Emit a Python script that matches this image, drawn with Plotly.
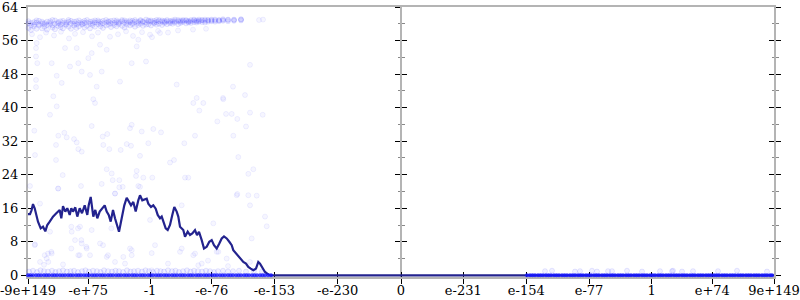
import plotly.graph_objects as go

# ---------------- data ----------------
tick_pos = [0, 60.3, 122, 183.7, 246.3, 309.7, 373, 435.3, 498.3, 561, 623.7, 684.3, 746]
tick_text = ["-9e+149", "-e+75", "-1", "-e-76", "-e-153", "-e-230", "0",
             "e-231", "e-154", "e-77", "1", "e+74", "9e+149"]
y_ticks = [0, 8, 16, 24, 32, 40, 48, 56, 64]

line_x = [0, 2, 3.5, 5, 6.7, 8.3, 10, 12.7, 15, 17.3, 19.3, 21.7, 25, 28.3, 31.7, 33.3, 35, 37.3,
          39.3, 41.7, 43.3, 45, 47.3, 49.3, 51.7, 54, 56.7, 59.3, 60.7, 62.7, 64, 65.3, 67.3, 69.3,
          71.7, 74, 76.7, 78.7, 80.7, 82.7, 85, 87, 89.7, 91, 93.7, 96.3, 98.7, 101, 103, 105.3,
          107.7, 110.3, 112, 114.3, 116.3, 118.7, 120.3, 123, 125.3, 127.7, 129.7, 132, 133.7,
          135.3, 137.7, 139.7, 142, 144.3, 146.3, 148.7, 150.3, 152, 153.7, 155.3, 157, 159.7,
          162, 164.3, 167, 169, 171, 172.5, 173.7, 176, 178.7, 181.3, 183.7, 186, 188.7, 191.3,
          193.7, 196, 198.7, 201.3, 203.7, 205.3, 208, 210.3, 212.7, 215.3, 218, 220.3, 222.7,
          225.3, 228, 230.3, 232, 234.7, 237, 239.3, 242, 746]
line_y = [14.6, 14.6, 15.5, 17.0, 16.0, 14.4, 12.8, 11.2, 11.6, 10.5, 12.0, 12.8, 14.0, 14.8, 15.6,
          13.6, 16.5, 15.2, 16.0, 14.4, 16.0, 15.2, 16.2, 14.0, 16.0, 14.8, 16.7, 14.4, 16.7, 18.7,
          16.7, 14.0, 15.6, 13.6, 15.2, 16.0, 16.7, 15.2, 14.4, 12.8, 15.6, 13.6, 11.4, 10.4, 13.6,
          16.7, 18.5, 17.5, 16.7, 17.5, 15.2, 17.9, 19.1, 17.9, 18.1, 18.3, 17.1, 16.3, 16.7, 15.9,
          14.4, 13.6, 14.0, 12.8, 11.2, 10.8, 12.0, 14.4, 16.3, 15.2, 14.0, 11.6, 11.2, 10.8, 9.2,
          10.4, 9.6, 10.0, 10.8, 9.6, 10.4, 9.4, 8.4, 6.4, 6.8, 8.0, 8.4, 7.2, 6.4, 7.6, 8.8, 9.3,
          8.8, 8.0, 7.2, 6.0, 5.2, 4.4, 3.8, 3.2, 2.8, 2.0, 1.6, 1.2, 1.6, 3.2, 2.8, 1.6, 0.8, 0.4,
          0, 0]

# dense band of points near the top
top_x = [0.5, 3, 6, 8.5, 11, 14, 16.5, 19, 22, 24.5, 27, 30, 32.5, 35, 38, 40.5, 43, 46, 48.5, 51,
         54, 56.5, 59, 62, 64.5, 67, 70, 72.5, 75, 78, 80.5, 83, 86, 88.5, 91, 94, 96.5, 99, 102,
         104.5, 107, 110, 112.5, 115, 118, 120.5, 123, 126, 128.5, 131, 134, 136.5, 139, 142,
         144.5, 147, 150, 152.5, 155, 158, 160.5, 163, 166, 168.5, 171, 174, 177, 180, 183.5, 187,
         191, 195, 200, 206, 213]
top_ya = [60.1, 59.6, 60.4, 60.8, 59.9, 60.5, 60.2, 59.7, 60.6, 60.9, 60.0, 60.4, 59.8, 60.7, 60.3,
          60.9, 60.1, 60.5, 59.9, 60.8, 60.4, 60.2, 60.9, 60.0, 60.6, 60.3, 60.8, 60.5, 60.1, 60.9,
          60.4, 60.7, 60.2, 60.8, 60.5, 60.9, 60.3, 60.6, 60.8, 60.2, 60.9, 60.5, 60.7, 60.4, 61.0,
          60.6, 60.8, 60.3, 60.9, 60.6, 60.8, 60.4, 60.9, 60.7, 60.5, 61.0, 60.6, 60.8, 60.9, 60.7,
          60.5, 60.9, 60.8, 60.6, 61.0, 60.8, 60.7, 60.9, 61.0, 60.8, 60.9, 61.1, 60.9, 61.0, 61.1]
top_yb = [59.0, 58.5, 59.4, 58.8, 59.6, 58.9, 59.3, 58.6, 59.8, 59.1, 58.7, 59.5, 59.2, 58.9, 59.7,
          59.3, 58.8, 59.6, 59.0, 59.4, 59.8, 59.1, 59.5, 58.9, 59.7, 59.3, 59.9, 59.4, 59.0, 59.6,
          59.8, 59.2, 59.7, 59.4, 59.9, 59.5, 59.1, 59.8, 59.6, 59.9, 59.3, 59.7, 60.0, 59.5, 59.8,
          59.9, 59.6, 60.1, 59.8, 60.0, 59.7, 60.2, 59.9, 60.1, 60.0, 60.3, 59.9, 60.2, 60.4, 60.1,
          60.3, 60.2, 60.4, 60.3, 60.5, 60.4, 60.3, 60.5, 60.6, 60.5, 60.6, 60.7, 60.6, 60.7, 60.8]
top_yc = [60.6, 60.2, 59.8, 60.3, 60.7, 60.1, 59.9, 60.5, 60.2, 59.6, 60.8, 60.1, 60.6, 60.2, 59.9,
          60.5, 60.7, 60.0, 60.6, 60.2, 60.0, 60.7, 60.3, 60.5, 60.1, 60.8, 60.4, 60.0, 60.7, 60.3,
          60.6, 60.1, 60.8, 60.4, 60.2, 60.6, 60.8, 60.2, 60.4, 60.7, 60.5, 60.2, 60.9, 60.6, 60.3,
          60.8, 60.5, 60.7, 60.4, 60.9, 60.5, 60.7, 60.6, 60.4, 60.8, 60.6, 60.9, 60.5, 60.7, 60.9,
          60.7, 60.6, 61.0, 60.8, 60.7, 60.9, 61.0, 60.8, 60.8, 61.0, 60.8, 60.9, 61.0, 60.9, 61.0]

# scattered points
pts_x = [231, 235, 4, 12, 18, 26, 33, 41, 47, 55, 64, 70, 82, 90, 98, 105, 114, 122, 130, 140, 150,
         165, 178, 8, 8, 9.3, 23.7, 37, 48.7, 50.3, 60.3, 63.7, 42, 53.7, 62, 73.7, 68.7, 78.7, 72,
         103.7, 118, 92, 8, 8, 28.7, 33.7, 25.3, 8.7, 222, 205, 148.7, 168.7, 195, 217, 108.7, 110.3,
         124, 132,
         28.7, 22, 67, 65.3, 195.3, 6.3, 63.7, 103.7, 102, 113.7, 125.3, 133, 30.3, 36.3, 38.7, 46,
         48.7, 28, 7, 28, 50.3, 53.7, 74.7, 79.3, 75.3, 81.3, 92.7, 98.7, 103, 120.3, 112, 156.3,
         167, 142, 146, 78.7, 83.7, 108.7, 108, 115.3, 124.3, 84.7, 91.3, 34.7, 53, 73.7, 87, 91.3,
         94.7, 110.3, 157, 160.3, 2, 30.3, 165.3, 175.3, 171.3, 198, 203.7, 209.3, 222, 234.7,
         189.3, 218, 205.3, 210.3, 220.3, 225.3, 209.3, 228.7,
         12, 87, 153.7, 208.7, 220.3, 237, 238.7, 7, 22, 43.7, 52, 63.7, 47, 53.7, 58.7, 72, 12,
         18.7, 23.7, 20.3, 50.3, 62, 78.7, 87, 103.7, 103.7, 123.7, 153.7, 167, 185.3, 188.7, 198.7,
         222, 123.7, 222, 16, 35, 140, 180, 200, 6.7, 16.7, 20, 23.3, 43.3, 51.7, 58.3, 75, 80, 53.3,
         43.3, 50, 83.3, 30, 122, 127, 102, 95.3, 152, 165.3, 170.3, 97, 112, 190.3, 223.7, 173.7]
pts_y = [60.9, 61.0, 57.5, 56.8, 57.9, 57.2, 58.1, 56.5, 57.6, 58.0, 57.0, 57.9, 56.9, 57.5, 58.2,
         57.1, 58.0, 57.4, 58.3, 57.9, 58.4, 58.6, 58.8, 54.2, 52.2, 50.6, 50.6, 54.2, 54.2, 50.6,
         51.8, 53.0, 49.8, 48.6, 47.8, 48.6, 45.0, 53.8, 55.0, 50.6, 51.0, 46.2, 46.6, 44.9, 47.6,
         45.9, 42.7, 55.4, 50.2, 45.0, 45.5, 42.3, 42.3, 43.0, 54.6, 56.2, 56.8, 57.8,
         40.3, 38.3, 41.1, 42.0, 42.0, 34.5, 35.6, 35.9, 35.1, 34.3, 34.9, 34.1, 33.3, 34.0, 32.9,
         32.5, 31.7, 31.1, 28.7, 27.5, 30.1, 29.5, 33.1, 33.7, 31.1, 30.1, 29.9, 31.3, 30.9, 31.5,
         28.5, 31.5, 33.3, 26.9, 27.5, 25.3, 24.3, 24.9, 23.7, 23.3, 23.3, 22.7, 22.7, 23.9, 21.3,
         21.8, 19.5, 21.0, 21.1, 21.3, 23.3, 23.3, 21.3, 20.7, 41.1, 41.1, 39.3, 38.5, 38.5, 37.3,
         38.8, 38.3, 36.7, 35.5, 33.3, 28.2, 24.2, 25.3, 19.4, 19.0,
         17.1, 19.5, 16.7, 19.1, 19.1, 14.0, 11.7, 7.4, 10.4, 10.4, 11.6, 10.8, 8.4, 7.6, 6.4, 7.6,
         3.2, 4.0, 5.2, 3.2, 4.8, 4.8, 4.4, 3.2, 6.0, 4.8, 5.3, 6.4, 5.2, 12.4, 5.6, 4.0, 3.2, 1.2,
         16.7, 2.5, 2.6, 2.8, 3.5, 2.2, 7.2, 4.8, 5.2, 5.6, 6.4, 4.8, 6.8, 7.2, 4.8, 8.4, 11.6, 11.2,
         11.2, 20.7, 13.2, 7.2, 6.4, 4.4, 5.6, 4.8, 2.4, 2.8, 21.1, 5.6, 8.8, 2.8]

# faint band just above zero
low_x = [1, 5, 9, 12.5, 16, 20, 24, 27.5, 31, 35, 39, 42.5, 46, 50, 54, 57.5, 61, 65, 69, 72.5, 76,
         80, 84, 87.5, 91, 95, 99, 102.5, 106, 110, 114, 117.5, 121, 125, 129, 132.5, 136, 140, 144,
         147.5, 151, 155, 159, 162.5, 166, 170, 174, 178, 182, 186, 190, 195, 200, 205, 211, 218,
         226, 234, 517, 524, 547, 552, 564, 569, 580, 584, 599, 614, 632, 644, 645, 654, 665, 690,
         709, 739]
low_y = [0.9, 1.1, 0.8, 1.2, 1.0, 0.9, 1.1, 0.8, 1.0, 1.2, 0.9, 1.0, 1.1, 0.8, 1.0, 1.2, 0.9, 1.1,
         1.0, 0.8, 1.2, 1.0, 0.9, 1.1, 1.0, 0.8, 1.2, 0.9, 1.0, 1.1, 0.9, 1.2, 1.0, 0.8, 1.1, 1.0,
         0.9, 1.2, 1.0, 1.1, 0.8, 1.0, 1.2, 0.9, 1.1, 1.0, 0.9, 1.1, 1.0, 0.8, 1.0, 1.1, 0.9, 1.0,
         1.1, 0.9, 1.0, 0.9, 1.0, 1.1, 0.9, 1.0, 1.1, 0.9, 1.0, 1.0, 1.1, 0.9, 1.0, 1.0, 1.1, 0.9,
         1.0, 1.0, 1.1, 0.9]

# points lying on zero
zero_x = [0, 2.5, 5, 8, 10.5, 13, 16, 18.5, 21, 24, 26.5, 29, 32, 34.5, 37, 40, 42.5, 45, 48, 50.5,
          53, 56, 58.5, 61, 64, 66.5, 69, 72, 74.5, 77, 80, 82.5, 85, 88, 90.5, 93, 96, 98.5, 101,
          104, 106.5, 109, 112, 114.5, 117, 120, 122.5, 125, 128, 130.5, 133, 136, 138.5, 141, 144,
          146.5, 149, 152, 154.5, 157, 160, 162.5, 165, 168, 170.5, 173, 176, 178.5, 181, 184,
          186.5, 189, 192, 194.5, 197, 200, 202.5, 205, 208, 210.5, 213, 216, 218.5, 221, 224,
          226.5, 229, 232, 234.5, 237, 240, 243,
          499, 502, 504.5, 507, 510, 512.5, 515, 518, 520.5, 523, 526, 528.5, 531, 534, 536.5, 539,
          542, 544.5, 547, 550, 552.5, 555, 558, 560.5, 563, 566, 568.5, 571, 574, 576.5, 579, 582,
          584.5, 587, 590, 592.5, 595, 598, 600.5, 603, 606, 608.5, 611, 614, 616.5, 619, 622,
          624.5, 627, 630, 632.5, 635, 638, 640.5, 643, 646, 648.5, 651, 654, 656.5, 659, 662,
          664.5, 667, 670, 672.5, 675, 678, 680.5, 683, 686, 688.5, 691, 694, 696.5, 699, 702,
          704.5, 707, 710, 712.5, 715, 718, 720.5, 723, 726, 728.5, 731, 734, 736.5, 739, 742, 744]

# ---------------- figure ----------------
band_x = list(top_x) * 3 + list(low_x)
band_y = list(top_ya) + list(top_yb) + list(top_yc) + list(low_y)

fig = go.Figure()
fig.add_trace(go.Scatter(x=line_x, y=line_y, mode="lines",
                         line=dict(color="#23238e", width=2.2), hoverinfo="skip"))
fig.add_trace(go.Scatter(x=pts_x, y=pts_y, mode="markers",
                         marker=dict(size=5, color="rgba(0,0,255,0.035)",
                                     line=dict(color="rgba(0,0,255,0.06)", width=1)),
                         cliponaxis=False, hoverinfo="skip"))
fig.add_trace(go.Scatter(x=band_x, y=band_y, mode="markers",
                         marker=dict(size=5, color="rgba(0,0,255,0.06)",
                                     line=dict(color="rgba(0,0,255,0.09)", width=1)),
                         cliponaxis=False, hoverinfo="skip"))
fig.add_trace(go.Scatter(x=zero_x, y=[0] * len(zero_x), mode="markers",
                         marker=dict(size=4, color="rgba(20,20,255,0.8)", line=dict(width=0)),
                         cliponaxis=False, hoverinfo="skip"))
# empty traces binding the extra tick axes
for xa, ya in [("x2", "y"), ("x", "y2"), ("x", "y3"), ("x", "y4")]:
    fig.add_trace(go.Scatter(x=[], y=[], xaxis=xa, yaxis=ya, showlegend=False))

GRAY = "#b4b4b4"
font = dict(family="DejaVu Serif", size=13, color="black")
x_range = [0, 746]
y_range = [-0.4, 64]
minor_out = dict(ticks="outside", dtick=4, tick0=0, ticklen=2.5, tickcolor="#888888", tickwidth=1)
minor_in = dict(ticks="inside", dtick=4, tick0=0, ticklen=2.5, tickcolor="#888888", tickwidth=1)
common = dict(showgrid=False, zeroline=False, automargin=False, layer="below traces",
              tickcolor="black", tickwidth=1, tickmode="array", ticklabeloverflow="allow")

fig.update_layout(
    width=800, height=300,
    margin=dict(l=28, r=26, t=7, b=23, autoexpand=False),
    paper_bgcolor="white", plot_bgcolor="white",
    showlegend=False,
    font=font,
    xaxis=dict(range=x_range, tickvals=tick_pos, ticktext=tick_text,
               ticks="outside", ticklen=5, ticklabelstandoff=-4,
               showline=True, linecolor=GRAY, linewidth=1.5, mirror=True,
               tickfont=font, **common),
    xaxis2=dict(range=x_range, overlaying="x", anchor="y", side="bottom",
                tickvals=tick_pos, ticks="inside", ticklen=5,
                showticklabels=False, showline=False, **common),
    yaxis=dict(range=y_range, tickvals=y_ticks,
               ticks="outside", ticklen=5,
               showline=True, linecolor=GRAY, linewidth=2, mirror="ticks",
               tickfont=font, minor=minor_out, **common),
    yaxis2=dict(range=y_range, overlaying="y", side="left", tickvals=y_ticks,
                ticks="inside", ticklen=5, mirror="ticks",
                showticklabels=False, showline=False, minor=minor_in, **common),
    yaxis3=dict(range=y_range, overlaying="y", anchor="free", position=0.5, side="left",
                tickvals=y_ticks, ticks="outside", ticklen=5, showticklabels=False,
                showline=True, linecolor=GRAY, linewidth=2, minor=minor_out, **common),
    yaxis4=dict(range=y_range, overlaying="y", anchor="free", position=0.5, side="left",
                tickvals=y_ticks, ticks="inside", ticklen=5, showticklabels=False,
                showline=False, minor=minor_in, **common),
)

fig.write_html("out.html")
